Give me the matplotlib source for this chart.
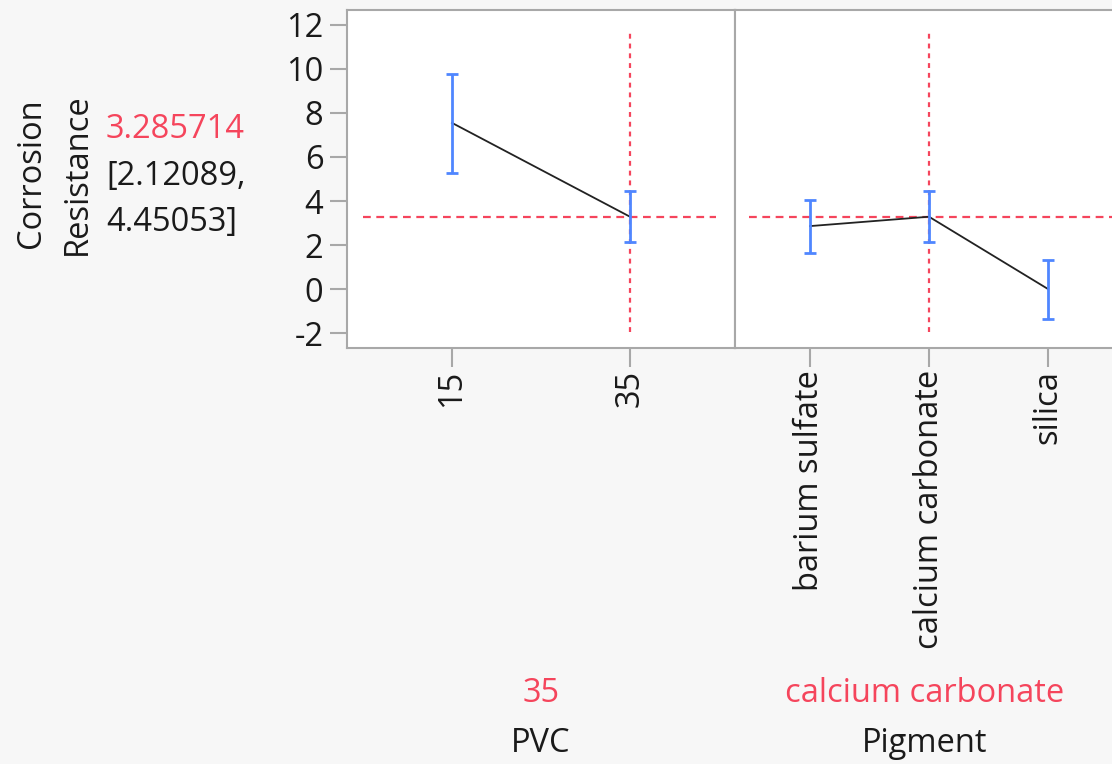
import matplotlib.pyplot as plt

# profiler data
pvc_levels = ['15', '35']
pvc_pred = [7.55, 3.285714]
pvc_lo = [5.27, 2.12089]
pvc_hi = [9.75, 4.45053]

pig_levels = ['barium sulfate', 'calcium carbonate', 'silica']
pig_pred = [2.86, 3.285714, 0.0]
pig_lo = [1.63, 2.12089, -1.38]
pig_hi = [4.05, 4.45053, 1.32]

current = 3.285714
ci_text = ['[2.12089,', '4.45053]']
pvc_current = 1
pig_current = 1
y_ticks = [-2, 0, 2, 4, 6, 8, 10, 12]

RED = '#f5455c'
BLUE = '#4f86ff'
GRAY = '#a8a8a8'
FS = 23.5

plt.rcParams['font.family'] = ['Open Sans', 'DejaVu Sans']

fig = plt.figure(figsize=(11.12, 7.64), dpi=100)
fig.patch.set_facecolor('#f7f7f7')

W, H = 1112.0, 764.0
ax1 = fig.add_axes([347 / W, 1 - 348 / H, 388 / W, 338 / H])
ax2 = fig.add_axes([735 / W, 1 - 348 / H, 388 / W, 338 / H])


def draw_panel(ax, levels, pred, lo, hi, cur_idx, show_y):
    x = list(range(len(levels)))
    ax.plot(x, pred, color='#222222', lw=1.3, zorder=3)
    yerr = [[p - l for p, l in zip(pred, lo)], [h - p for p, h in zip(pred, hi)]]
    ax.errorbar(x, pred, yerr=yerr, fmt='none', ecolor=BLUE, elinewidth=2,
                capsize=4.5, capthick=2, zorder=4)
    ax.plot([cur_idx, cur_idx], [-1.95, 11.8], color=RED, lw=1.6,
            ls=(0, (2.2, 2.2)), zorder=2)
    pad = 0.59 if len(levels) == 2 else 0.63
    ax.set_xlim(-pad, len(levels) - 1 + pad)
    ax.set_ylim(-2.68, 12.68)
    ax.axhline(current, xmin=0.04 if show_y else 0.035, xmax=0.95 if show_y else 0.99,
               color=RED, lw=1.6, ls=(0, (3.5, 2.5)), zorder=2)
    ax.set_xticks(x)
    ax.set_xticklabels(levels, rotation=90, fontsize=FS, color='#1a1a1a')
    ax.set_yticks(y_ticks)
    if show_y:
        ax.set_yticklabels([str(t) for t in y_ticks], fontsize=FS, color='#1a1a1a')
    else:
        ax.tick_params(axis='y', left=False, labelleft=False)
    ax.tick_params(axis='both', direction='out', length=12, width=1.5, color=GRAY, pad=5)
    ax.tick_params(axis='x', length=14, pad=2)
    for s in ax.spines.values():
        s.set_color(GRAY)
        s.set_linewidth(1.5)
    ax.set_facecolor('white')


draw_panel(ax1, pvc_levels, pvc_pred, pvc_lo, pvc_hi, pvc_current, True)
draw_panel(ax2, pig_levels, pig_pred, pig_lo, pig_hi, pig_current, False)

# left side labels
fig.text(31 / W, 1 - 173 / H, 'Corrosion', rotation=90, ha='center', va='center',
         fontsize=FS, color='#1a1a1a')
fig.text(77 / W, 1 - 174 / H, 'Resistance', rotation=90, ha='center', va='center',
         fontsize=FS, color='#1a1a1a')
fig.text(106 / W, 1 - 130 / H, '%.6f' % current, ha='left', va='center',
         fontsize=FS, color=RED)
fig.text(106 / W, 1 - 176 / H, ci_text[0], ha='left', va='center',
         fontsize=FS, color='#1a1a1a')
fig.text(106 / W, 1 - 222 / H, ci_text[1], ha='left', va='center',
         fontsize=FS, color='#1a1a1a')

# bottom factor labels
fig.text(541 / W, 1 - 693 / H, pvc_levels[pvc_current], ha='center', va='center',
         fontsize=FS, color=RED)
fig.text(541 / W, 1 - 744 / H, 'PVC', ha='center', va='center', fontsize=FS,
         color='#1a1a1a')
fig.text(925 / W, 1 - 693 / H, pig_levels[pig_current], ha='center', va='center',
         fontsize=FS, color=RED)
fig.text(925 / W, 1 - 744 / H, 'Pigment', ha='center', va='center', fontsize=FS,
         color='#1a1a1a')

fig.savefig('out.png', dpi=100, facecolor=fig.get_facecolor())
